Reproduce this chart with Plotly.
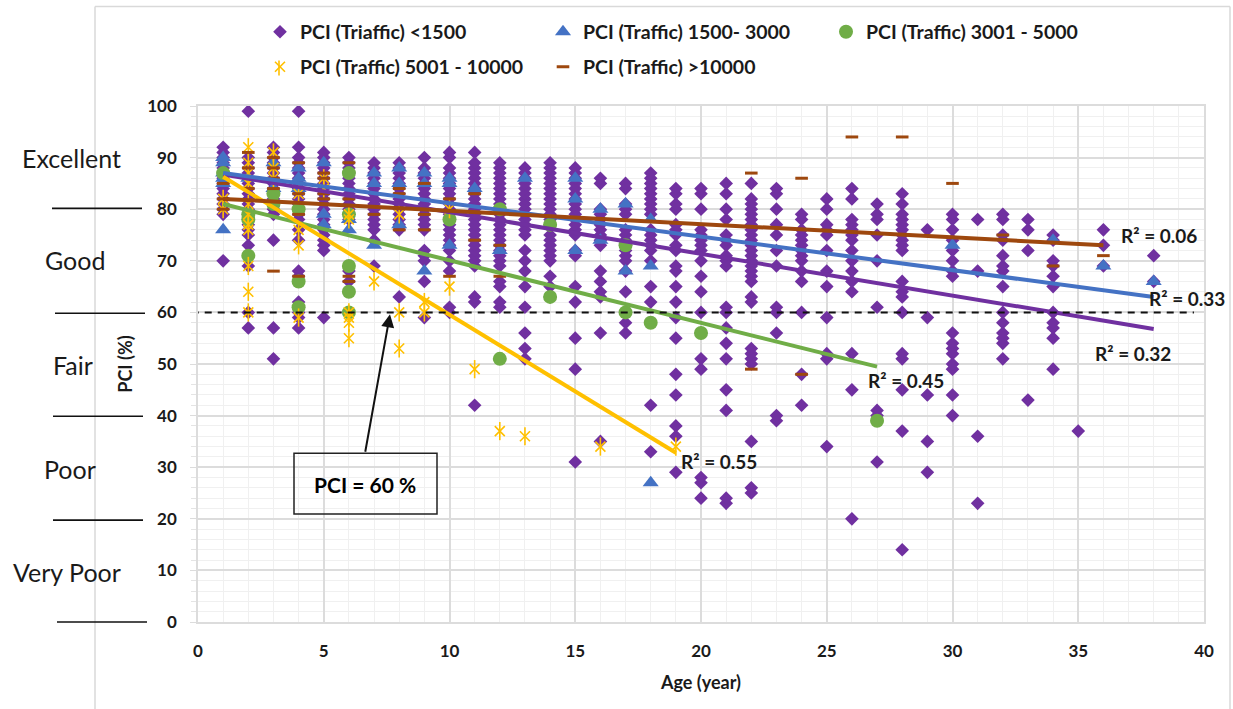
import plotly.graph_objects as go

# ---------- data ----------
ages = list(range(1, 39))
pci_lt1500 = [
    [70, 79, 80, 81, 82, 83, 84, 85, 86, 87, 88, 89, 90, 91, 92],
    [57, 60, 69, 73, 75, 76, 77, 78, 79, 80, 81, 82, 83, 84, 85, 86, 87, 88, 89, 90, 99],
    [51, 57, 74, 79, 80, 81, 82, 83, 84, 85, 86, 87, 88, 89, 90, 91, 92],
    [57, 59, 60, 61, 62, 67, 68, 74, 76, 78, 79, 80, 81, 82, 83, 84, 85, 86, 87, 88, 89, 90, 92, 99],
    [59, 72, 73, 74, 75, 76, 77, 78, 79, 80, 81, 82, 83, 84, 85, 86, 87, 88, 89, 90, 91],
    [60, 66, 68, 78, 79, 80, 81, 82, 83, 84, 85, 86, 87, 88, 89, 90],
    [69, 74, 76, 77, 78, 79, 80, 81, 82, 83, 84, 85, 86, 87, 88, 89],
    [63, 76, 77, 78, 79, 80, 81, 82, 83, 84, 85, 86, 87, 88, 89],
    [59, 66, 70, 71, 72, 76, 77, 78, 79, 80, 81, 82, 83, 84, 85, 86, 87, 88, 90],
    [60, 61, 68, 70, 72, 73, 74, 75, 76, 77, 78, 79, 80, 81, 82, 83, 84, 85, 86, 87, 88, 90, 91],
    [42, 62, 63, 69, 70, 71, 72, 73, 74, 75, 76, 77, 78, 79, 80, 81, 82, 83, 84, 85, 86, 87, 88, 89, 91],
    [61, 62, 65, 66, 69, 70, 71, 72, 73, 74, 75, 76, 77, 78, 79, 80, 81, 82, 83, 84, 85, 86, 87, 88, 89],
    [51, 53, 56, 61, 65, 68, 70, 72, 75, 76, 77, 78, 79, 80, 81, 82, 83, 84, 85, 86, 87, 88],
    [63, 65, 67, 70, 71, 72, 73, 74, 75, 77, 78, 79, 80, 81, 82, 83, 84, 85, 86, 87, 88, 89],
    [31, 49, 55, 62, 65, 71, 72, 75, 76, 77, 78, 79, 80, 81, 82, 83, 84, 85, 86, 87, 88],
    [35, 56, 63, 64, 66, 68, 73, 74, 75, 76, 77, 78, 79, 80, 85, 86],
    [56, 58, 60, 64, 68, 70, 71, 72, 73, 74, 75, 76, 79, 80, 81, 84, 85],
    [33, 42, 62, 65, 70, 72, 73, 74, 75, 76, 79, 80, 81, 82, 83, 84, 85, 86, 87],
    [29, 36, 38, 44, 48, 55, 59, 62, 65, 68, 69, 72, 73, 75, 76, 77, 80, 81, 83, 84],
    [24, 27, 28, 49, 51, 56, 60, 64, 67, 70, 72, 73, 74, 75, 76, 80, 83, 84],
    [23, 24, 41, 45, 51, 54, 57, 60, 61, 69, 70, 71, 73, 74, 75, 78, 80, 83, 85],
    [25, 26, 35, 50, 51, 52, 53, 62, 63, 66, 67, 68, 69, 70, 71, 72, 73, 74, 75, 76, 77, 78, 79, 80, 81, 82, 85],
    [39, 40, 56, 60, 61, 69, 72, 75, 77, 80, 83, 84],
    [42, 48, 60, 66, 68, 70, 71, 72, 73, 74, 75, 76, 78, 79],
    [34, 51, 52, 59, 65, 68, 72, 75, 76, 77, 80, 82],
    [20, 45, 52, 64, 66, 68, 70, 72, 74, 75, 76, 77, 78, 82, 84],
    [31, 40, 41, 61, 70, 75, 78, 79, 81],
    [14, 37, 45, 51, 52, 60, 63, 64, 66, 72, 73, 74, 75, 76, 77, 78, 79, 81, 83],
    [29, 35, 44, 59, 76],
    [40, 44, 49, 50, 52, 53, 54, 56, 67, 68, 70, 72, 74, 76, 78, 79],
    [23, 36, 68, 78],
    [51, 54, 55, 56, 58, 60, 65, 68, 69, 71, 74, 75, 78, 79],
    [43, 72, 76, 78],
    [49, 55, 57, 58, 60, 65, 67, 69, 70, 74, 75],
    [37],
    [69, 73, 76],
    [],
    [66, 71],
]
pci_1500_3000_age = [1, 1, 1, 1, 1, 1, 2, 3, 3, 4, 4, 4, 5, 5, 5, 6, 6, 7, 7, 7, 8, 8, 8, 9, 9, 9,
                     10, 10, 10, 11, 12, 13, 15, 15, 15, 16, 16, 17, 17, 18, 18, 18, 30, 34, 36, 38]
pci_1500_3000 = [76, 85, 86, 87, 89, 90, 86, 84, 89, 84, 86, 88, 77, 79, 89, 76, 78, 73, 85, 87, 77, 85, 88, 68, 85, 87,
                 73, 85, 86, 84, 72, 86, 72, 82, 86, 74, 80, 68, 81, 27, 69, 78, 73, 74, 69, 66]
pci_3001_5000_age = [1, 2, 2, 2, 3, 3, 4, 4, 4, 6, 6, 6, 6, 6, 10, 12, 12, 14, 14, 17, 17, 18, 20, 27]
pci_3001_5000 = [87, 71, 78, 79, 81, 83, 61, 66, 80, 60, 64, 69, 79, 87, 78, 51, 80, 63, 77, 60, 73, 58, 56, 39]
pci_5001_10000_age = [1, 1, 2, 2, 2, 2, 2, 2, 2, 2, 2, 2, 2, 3, 3, 3, 4, 4, 4, 4, 5, 5, 6, 6, 6, 6, 6, 6,
                      7, 8, 8, 8, 9, 9, 10, 10, 11, 12, 13, 16, 19]
pci_5001_10000 = [80, 82, 60, 64, 69, 76, 77, 79, 81, 85, 87, 89, 92, 86, 88, 91, 59, 73, 76, 83, 84, 86, 55, 58, 59, 60, 78, 79,
                  66, 53, 60, 79, 60, 62, 65, 80, 49, 37, 36, 34, 34]
pci_gt10000_age = [1, 1, 1, 2, 2, 2, 3, 3, 3, 3, 3, 4, 4, 4, 4, 5, 5, 5, 5, 6, 6, 6, 6, 7, 8, 8, 8,
                   9, 9, 9, 10, 10, 11, 11, 12, 12, 22, 22, 24, 24, 26, 28, 30, 32, 34, 36]
pci_gt10000 = [80, 82, 85, 84, 88, 91, 68, 84, 86, 88, 90, 67, 79, 83, 89, 82, 83, 86, 87, 66, 67, 82, 89, 79, 76, 83, 84,
               76, 79, 85, 67, 82, 74, 83, 67, 73, 49, 87, 48, 86, 94, 94, 85, 75, 69, 71]

trend_lt1500_age, trend_lt1500 = [1, 38], [86.7, 56.8]
trend_1500_3000_age, trend_1500_3000 = [1, 38], [87, 63]
trend_3001_5000_age, trend_3001_5000 = [1, 27], [81, 49.5]
trend_5001_10000_age, trend_5001_10000 = [1, 19], [86.3, 32.8]
trend_gt10000_age, trend_gt10000 = [1, 36], [82, 73]
threshold_age, threshold = [-0.25, 39.6], [60, 60]

rating_labels = ["Excellent", "Good", "Fair", "Poor", "Very Poor"]
names = ["PCI (Triaffic) <1500", "PCI (Traffic) 1500- 3000", "PCI (Traffic) 3001 - 5000",
         "PCI (Traffic) 5001 - 10000", "PCI (Traffic) >10000"]
r2_labels = ["R² = 0.06", "R² = 0.33", "R² = 0.32", "R² = 0.45", "R² = 0.55"]

# ---------- style ----------
PURPLE, BLUE, GREEN, YELLOW, BROWN = "#7030A0", "#4472C4", "#70AD47", "#FFC000", "#9E480E"
W, H = 1233, 709
L, R, T, B = 198, 1204, 105.5, 622
FONT = "Lato, Carlito, Calibri, sans-serif"
INK = "#1a1a1a"
LEG_X = 260
LEG_MARK_X = 279

def px(v):
    return (v - L) / (R - L)

def py(v):
    return (B - v) / (B - T)

fig = go.Figure()
x1 = [a for a, vals in zip(ages, pci_lt1500) for _ in vals]
y1 = [v for vals in pci_lt1500 for v in vals]
fig.add_trace(go.Scatter(x=x1, y=y1, mode="markers", name=names[0], legend="legend",
                         marker=dict(symbol="diamond", size=10.5, color=PURPLE)))
fig.add_trace(go.Scatter(x=pci_1500_3000_age, y=pci_1500_3000, mode="markers", name=names[1], legend="legend",
                         marker=dict(symbol="triangle-up", size=14, color=BLUE)))
fig.add_trace(go.Scatter(x=pci_3001_5000_age, y=pci_3001_5000, mode="markers", name=names[2], legend="legend",
                         marker=dict(symbol="circle", size=14, color=GREEN)))
fig.add_trace(go.Scatter(x=pci_5001_10000_age, y=pci_5001_10000, mode="markers", name=names[3], legend="legend2",
                         marker=dict(symbol="x-thin-open", size=10, line=dict(color=YELLOW, width=1.6), color=YELLOW)))
fig.add_trace(go.Scatter(x=pci_5001_10000_age, y=pci_5001_10000, mode="markers", showlegend=False,
                         marker=dict(symbol="line-ns-open", size=13, line=dict(color=YELLOW, width=1.6), color=YELLOW)))
fig.add_trace(go.Scatter(x=pci_gt10000_age, y=pci_gt10000, mode="markers", name=names[4], legend="legend2",
                         marker=dict(symbol="line-ew-open", size=9, line=dict(color=BROWN, width=3), color=BROWN)))
for tx, ty, c in [(trend_lt1500_age, trend_lt1500, PURPLE), (trend_1500_3000_age, trend_1500_3000, BLUE),
                  (trend_3001_5000_age, trend_3001_5000, GREEN), (trend_5001_10000_age, trend_5001_10000, YELLOW),
                  (trend_gt10000_age, trend_gt10000, BROWN)]:
    fig.add_trace(go.Scatter(x=tx, y=ty, mode="lines", showlegend=False, line=dict(color=c, width=4)))
fig.add_trace(go.Scatter(x=threshold_age, y=threshold, mode="lines", showlegend=False, cliponaxis=False,
                         line=dict(color="#111111", width=2, dash="7px,6px")))

annotations = []
for label, xc, yp in zip(rating_labels, [71, 75, 73, 70, 67], [158, 260, 365, 469, 572]):
    annotations.append(dict(xref="paper", yref="paper", x=px(xc), y=py(yp), text=label, showarrow=False,
                            xanchor="center", yanchor="middle", font=dict(family=FONT, size=25, color=INK)))
for label, xp, yp in zip(r2_labels, [1159, 1187, 1133, 906, 719], [235, 298, 353, 380, 461]):
    annotations.append(dict(xref="paper", yref="paper", x=px(xp), y=py(yp), text="<b>" + label + "</b>", showarrow=False,
                            xanchor="center", yanchor="middle", font=dict(family=FONT, size=19, color=INK)))
annotations.append(dict(xref="paper", yref="paper", x=px(365), y=py(484), text="<b>PCI = 60 %</b>", showarrow=False,
                        xanchor="center", yanchor="middle", font=dict(family=FONT, size=21, color="#000000")))
annotations.append(dict(xref="paper", yref="paper", axref="pixel", ayref="pixel", x=px(390), y=py(314),
                        ax=365 - 390, ay=453 - 314, text="", showarrow=True, arrowhead=2, arrowsize=1.3, arrowwidth=2,
                        arrowcolor="#111111"))

shapes = [dict(type="rect", xref="paper", yref="paper", x0=px(294), x1=px(437), y0=py(453), y1=py(514),
               line=dict(color="#222222", width=1.5), fillcolor="rgba(0,0,0,0)"),
          dict(type="line", xref="paper", yref="paper", x0=px(95), x1=px(95), y0=py(6), y1=py(709),
               line=dict(color="#d9d9d9", width=1.5)),
          dict(type="line", xref="paper", yref="paper", x0=px(95), x1=px(1230), y0=py(6), y1=py(6),
               line=dict(color="#d9d9d9", width=1.5)),
          dict(type="line", xref="paper", yref="paper", x0=px(1230), x1=px(1230), y0=py(6), y1=py(709),
               line=dict(color="#d9d9d9", width=1.5)),
          dict(type="line", xref="paper", yref="paper", x0=px(LEG_MARK_X), x1=px(LEG_MARK_X), y0=py(60), y1=py(75),
               line=dict(color=YELLOW, width=1.6))]
for x0, x1_, yp in [(52, 142, 208), (55, 145, 313), (53, 143, 416), (53, 143, 520), (57, 147, 622)]:
    shapes.append(dict(type="line", xref="paper", yref="paper", x0=px(x0), x1=px(x1_), y0=py(yp), y1=py(yp),
                       line=dict(color="#111111", width=1.6)))

legend_font = dict(family=FONT, size=19.5, color=INK, weight="bold")
fig.update_layout(
    width=W, height=H, autosize=False, margin=dict(l=L, r=W - R, t=T, b=H - B),
    paper_bgcolor="white", plot_bgcolor="white", font=dict(family=FONT, color=INK),
    annotations=annotations, shapes=shapes,
    legend=dict(orientation="h", x=px(LEG_X), y=py(12), xanchor="left", yanchor="top", entrywidth=238, entrywidthmode="pixels",
                font=legend_font, itemwidth=30, bgcolor="rgba(0,0,0,0)"),
    legend2=dict(orientation="h", x=px(LEG_X), y=py(47), xanchor="left", yanchor="top", entrywidth=238, entrywidthmode="pixels",
                 font=legend_font, itemwidth=30, bgcolor="rgba(0,0,0,0)"),
    xaxis=dict(range=[0, 40], dtick=5, showgrid=True, gridcolor="#dcdcdc", gridwidth=1.5, zeroline=False,
               showline=True, linecolor="#dcdcdc", linewidth=1.5, mirror=True, ticks="",
               ticklabelstandoff=13, tickfont=dict(family=FONT, size=17, color=INK, weight="bold"),
               minor=dict(dtick=1, showgrid=True, gridcolor="#f0f0f0", gridwidth=1),
               title=dict(text="<b>Age (year)</b>", standoff=16, font=dict(family=FONT, size=18, color=INK))),
    yaxis=dict(range=[0, 100], dtick=10, showgrid=True, gridcolor="#dcdcdc", gridwidth=1.5, zeroline=False,
               showline=True, linecolor="#dcdcdc", linewidth=1.5, mirror=True, ticks="outside", ticklen=6, tickcolor="#dcdcdc",
               ticklabelstandoff=10, tickfont=dict(family=FONT, size=17, color=INK, weight="bold"),
               minor=dict(dtick=2, showgrid=True, gridcolor="#f0f0f0", gridwidth=1, ticks="outside", ticklen=5, tickcolor="#e4e4e4"),
               title=dict(text="<b>PCI (%)</b>", standoff=10, font=dict(family=FONT, size=18, color=INK))),
)
fig.write_html("out.html", config=dict(displayModeBar=False),
               post_script="document.body.style.margin='0';document.documentElement.style.overflow='hidden';window.dispatchEvent(new Event('resize'));")
